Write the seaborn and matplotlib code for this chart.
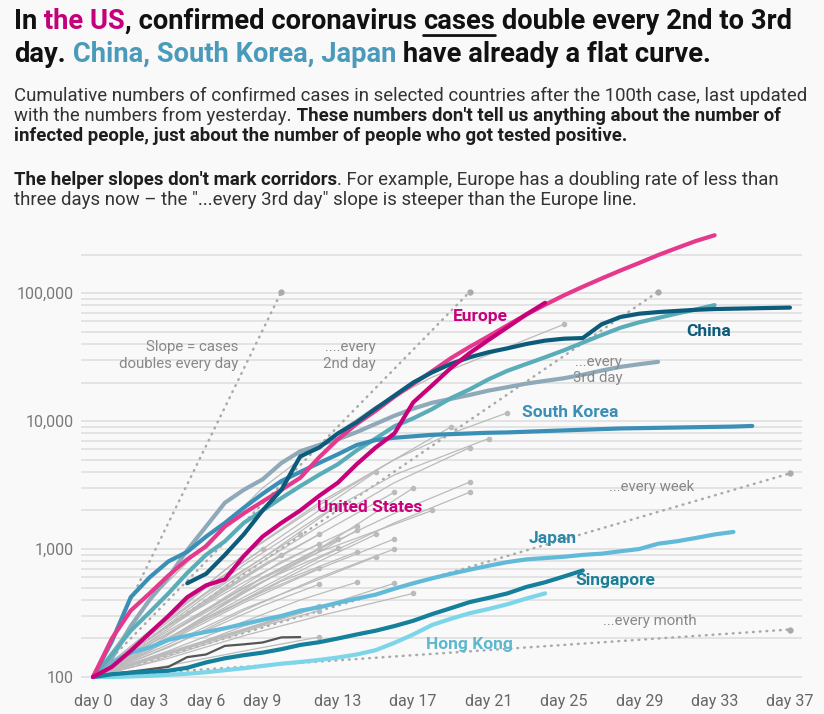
import numpy as np
import matplotlib
matplotlib.use("Agg")
import matplotlib.pyplot as plt
import seaborn as sns

# cumulative confirmed cases, day 0 = day of the 100th case
europe = [100, 200, 330, 450, 620, 830, 1050, 1500, 1900, 2350, 2900, 3600, 5200, 7200, 9500,
          12000, 15500, 19500, 24500, 31000, 38000, 46000, 56000, 68000, 81000, 96000, 112000,
          130000, 150000, 172000, 198000, 225000, 255000, 283000]
us = [100, 120, 160, 220, 300, 420, 520, 580, 880, 1250, 1600, 2000, 2600, 3300, 4600, 6200,
      8000, 14000, 19000, 26000, 34000, 43000, 54000, 68000, 84000]
china_start = 5
china = [540, 640, 900, 1300, 2000, 2900, 5300, 6200, 8000, 9800, 12500, 15800, 20000, 24000,
         28000, 31500, 34500, 37000, 40000, 42500, 44000, 44500, 57000, 65000, 69000, 71000,
         72500, 74000, 75000, 75500, 76000, 76500, 77000]
south_korea = [100, 190, 420, 600, 800, 950, 1250, 1600, 2100, 2700, 3400, 4000, 4700, 5500,
               6500, 7100, 7400, 7600, 7800, 7900, 8000, 8100, 8150, 8250, 8350, 8450, 8550,
               8650, 8750, 8800, 8850, 8900, 8950, 9000, 9050, 9150]
italy = [100, 150, 230, 320, 450, 650, 900, 1150, 1600, 2000, 2500, 3100, 3800, 4600, 5900,
         7300, 9100, 10500, 12400, 15100, 17700, 21200, 24700, 27900, 31500, 35700, 41000,
         47000, 53600, 59100, 63900, 69200, 74400, 80500]
iran = [100, 140, 250, 400, 600, 980, 1500, 2300, 2900, 3500, 4700, 5800, 6500, 7200, 8200,
        9500, 11000, 12500, 13900, 14900, 16000, 17300, 18400, 19600, 20600, 21600, 23000,
        24800, 26500, 27800, 29000]
japan = [100, 130, 155, 170, 195, 210, 225, 240, 260, 280, 300, 330, 350, 380, 410, 440, 490,
         540, 590, 640, 690, 740, 790, 830, 850, 870, 900, 920, 960, 1000, 1100, 1150, 1220,
         1300, 1360]
singapore = [100, 105, 108, 110, 112, 118, 130, 140, 148, 155, 165, 178, 187, 200, 215, 230,
             250, 275, 310, 345, 385, 415, 450, 505, 550, 610, 680]
hong_kong = [100, 100, 101, 102, 104, 106, 109, 113, 117, 122, 127, 131, 136, 142, 150, 162,
             185, 215, 255, 285, 315, 340, 370, 410, 450]
dark_grey = [100, 106, 110, 115, 120, 143, 150, 175, 180, 186, 204, 205]

# other countries (grey), sampled every few days
grey_days = [
    [0, 3, 6, 9, 12, 15, 18, 21, 25], [0, 4, 8, 12, 16, 19, 22], [0, 4, 8, 12, 16, 21],
    [0, 4, 8, 12, 16, 20], [0, 4, 8, 12, 16, 20], [0, 4, 8, 12, 16, 20], [0, 4, 8, 12, 16],
    [0, 4, 8, 12, 18], [0, 3, 6, 9, 13], [0, 3, 7, 10, 14], [0, 4, 8, 12, 15], [0, 3, 6, 9, 12],
    [0, 3, 6, 9, 12], [0, 4, 8, 11, 14], [0, 4, 8, 12, 16], [0, 4, 8, 12, 17], [0, 3, 6, 9, 12],
    [0, 3, 6, 9, 12], [0, 4, 8, 12, 16, 19], [0, 3, 6, 9, 12, 15], [0, 3, 6, 9, 13],
    [0, 3, 6, 9, 11], [0, 3, 6, 10], [0, 3, 7, 10, 14], [0, 3, 6, 9, 12], [0, 4, 8, 12, 17],
    [0, 3, 6, 9, 13], [0, 4, 8, 12], [0, 3, 6, 9, 12, 15], [0, 4, 8, 12, 16], [0, 3, 6, 9, 12],
    [0, 4, 8, 12, 16], [0, 3, 6, 9, 12], [0, 3, 6, 9], [0, 4, 8, 12, 14], [0, 4, 8, 11],
]
grey_vals = [
    [100, 400, 1100, 3000, 6500, 13000, 22000, 33000, 57000], [100, 300, 900, 2300, 5000, 8000, 11600],
    [100, 280, 750, 1800, 3800, 7300], [100, 250, 650, 1500, 3300, 6200],
    [100, 220, 500, 1000, 1900, 3340], [100, 200, 420, 850, 1600, 2780], [100, 250, 600, 1300, 2780],
    [100, 230, 500, 950, 2000], [100, 180, 320, 560, 1010], [100, 170, 330, 560, 950],
    [100, 180, 340, 580, 870], [100, 170, 290, 460, 710], [100, 150, 230, 360, 530],
    [100, 160, 270, 400, 550], [100, 150, 230, 350, 540], [100, 140, 210, 300, 450],
    [100, 140, 190, 260, 360], [100, 115, 140, 170, 205], [100, 300, 900, 2200, 5000, 9000],
    [100, 220, 500, 1000, 2000, 4000], [100, 200, 430, 850, 2200], [100, 210, 450, 850, 1300],
    [100, 190, 380, 900], [100, 170, 420, 800, 1500], [100, 200, 400, 750, 1300],
    [100, 200, 450, 1000, 3000], [100, 160, 300, 600, 1200], [100, 250, 550, 1100],
    [100, 160, 280, 480, 800, 1300], [100, 190, 380, 700, 1200], [100, 130, 180, 250, 330],
    [100, 170, 330, 600, 1000], [100, 180, 330, 600, 1000], [100, 220, 500, 1000],
    [100, 200, 460, 950, 1400], [100, 150, 250, 330],
]

# helper slopes: doubling every day / 2nd day / 3rd day / week / month
slope_days = [[0, 10], [0, 20], [0, 30], [0, 37], [0, 37]]
slope_vals = [[100, 102400], [100, 102400], [100, 102400], [100, 3900], [100, 235]]

tick_days = [0, 3, 6, 9, 13, 17, 21, 25, 29, 33, 37]
y_ticks = [100, 1000, 10000, 100000]
y_labels = ["100", "1,000", "10,000", "100,000"]

BG = "#f9f9f9"
MAGENTA = "#c8007a"
PINK = "#e5398d"
CHINA = "#0c5b7a"
SK = "#3a8fb7"

sns.set_style("white")
plt.rcParams["font.family"] = ["Roboto", "DejaVu Sans"]

fig = plt.figure(figsize=(8.24, 7.14), dpi=100, facecolor=BG)
ax = fig.add_axes([81 / 824, (714 - 679.85) / 714, 721 / 824, 447.85 / 714])
ax.set_facecolor(BG)

# grid lines at every 1..9 x 10^k
for e in (2, 3, 4, 5):
    for k in range(1, 10):
        if k * 10 ** e <= 200000:
            ax.axhline(k * 10 ** e, color="#dddddd", lw=1.1, zorder=0)

for d, v in zip(slope_days, slope_vals):
    sns.lineplot(x=d, y=v, ax=ax, color="#aaaaaa", lw=1.8, linestyle=(0, (0.3, 2.4)),
                 dash_capstyle="round", estimator=None, legend=False, zorder=1)
    ax.plot(d[-1], v[-1], "o", ms=3.5, color="#aaaaaa", zorder=1)

for i, (d, v) in enumerate(zip(grey_days, grey_vals)):
    sns.lineplot(x=d, y=v, ax=ax, color="#bbbbbb", lw=2.0 if i == 16 else 0.9,
                 estimator=None, legend=False, zorder=2)
    ax.plot(d[-1], v[-1], "o", ms=3, color="#bbbbbb", zorder=2)

highlight = [
    (0, dark_grey, "#555555", 1.6),
    (0, hong_kong, "#7dd5ea", 3.0),
    (0, singapore, "#14809b", 3.0),
    (0, japan, "#62bad9", 3.0),
    (0, iran, "#8fa9b8", 3.0),
    (0, italy, "#5aacb8", 3.0),
    (0, south_korea, SK, 3.0),
    (0, europe, PINK, 3.0),
    (china_start, china, CHINA, 3.0),
    (0, us, MAGENTA, 3.0),
]
for start, vals, col, lw in highlight:
    days = np.arange(start, start + len(vals))
    sns.lineplot(x=days, y=vals, ax=ax, color=col, lw=lw, solid_capstyle="round",
                 solid_joinstyle="round", estimator=None, legend=False, zorder=3)

ax.set_yscale("log")
ax.set_xlim(-0.64, 37.64)
ax.set_ylim(95, 300000)
ax.set_yticks(y_ticks)
ax.set_yticklabels(y_labels)
ax.yaxis.set_minor_locator(matplotlib.ticker.NullLocator())
ax.set_xticks(tick_days)
ax.set_xticklabels([f"day {d}" for d in tick_days])
ax.tick_params(axis="y", length=0, pad=5, labelsize=11.5, labelcolor="#7a7a7a")
ax.tick_params(axis="x", length=5, width=1, color="#cfcfcf", pad=5, labelsize=11.5,
               labelcolor="#666666")
for s in ax.spines.values():
    s.set_visible(False)
ax.set_xlabel("")
ax.set_ylabel("")

# country labels
lab = dict(fontsize=12.5, fontweight="bold", family="Roboto", zorder=5)
ax.text(19.1, 60300, "Europe", color=MAGENTA, **lab)
ax.text(31.5, 46100, "China", color=CHINA, **lab)
ax.text(22.8, 10700, "South Korea", color=SK, **lab)
ax.text(11.9, 1945, "United States", color=MAGENTA, **lab)
ax.text(23.1, 1114, "Japan", color="#2d87a7", **lab)
ax.text(25.6, 524, "Singapore", color="#1a7f96", **lab)
ax.text(17.7, 165, "Hong Kong", color="#5cb8cf", **lab)

# helper slope notes
note = dict(fontsize=10.8, color="#888888", family="Roboto", zorder=4)
ax.text(7.7, 35200, "Slope = cases", ha="right", **note)
ax.text(7.7, 25900, "doubles every day", ha="right", **note)
ax.text(15.0, 35200, "....every", ha="right", **note)
ax.text(15.0, 25900, "2nd day", ha="right", **note)
ax.text(28.1, 26900, "...every", ha="right", **note)
ax.text(28.1, 20200, "3rd day", ha="right", **note)
ax.text(27.4, 2840, "...every week", ha="left", **note)
ax.text(27.1, 255, "...every month", ha="left", **note)


def rich_line(x, y, parts, size):
    # parts: (text, colour, weight, gap in points before it)
    prev = None
    out = []
    for text, color, weight, gap in parts:
        kw = dict(fontsize=size, color=color, fontweight=weight, family="Roboto",
                  ha="left", annotation_clip=False)
        if prev is None:
            prev = ax.annotate(text, xy=(x, 714 - y), xycoords="figure pixels", va="baseline", **kw)
        else:
            prev = ax.annotate(text, xy=(1, 0), xycoords=prev, xytext=(gap, 0),
                               textcoords="offset points", va="bottom", **kw)
        out.append(prev)
    return out


K = "#111111"
TBLUE = "#4a9bbb"
t1 = rich_line(14, 29, [("In", K, "bold", 0), (" the US", "#c4007a", "bold", 0),
                        (", confirmed coronavirus", K, "bold", 0), ("cases", K, "bold", 4.8),
                        (" double every 2nd to 3rd", K, "bold", 0)], 19.75)
ax.annotate("", xy=(0, -0.02), xycoords=t1[3], xytext=(1, -0.02), textcoords=t1[3],
            arrowprops=dict(arrowstyle="-", color=K, lw=2, shrinkA=0, shrinkB=0),
            annotation_clip=False)
rich_line(14, 62, [("day.", K, "bold", 0), (" China, South Korea, Japan", TBLUE, "bold", 0),
                   (" have already a flat curve.", K, "bold", 0)], 19.75)

R, B = "#333333", "#1e1e1e"
sub = 13.45
rich_line(14, 101, [("Cumulative numbers of confirmed cases in selected countries after the 100th case, last updated", R, "normal", 0)], sub)
rich_line(14, 121, [("with the numbers from yesterday.", R, "normal", 0),
                    (" These numbers don't tell us anything about the number of", B, "bold", 0)], sub)
rich_line(14, 141, [("infected people, just about the number of people who got tested positive.", B, "bold", 0)], sub)
rich_line(14, 185, [("The helper slopes don't mark corridors", B, "bold", 0),
                    (". For example, Europe has a doubling rate of less than", R, "normal", 0)], sub)
rich_line(14, 205, [("three days now \u2013 the \"...every 3rd day\" slope is steeper than the Europe line.", R, "normal", 0)], sub)

fig.savefig("out.png", dpi=100, facecolor=BG)
